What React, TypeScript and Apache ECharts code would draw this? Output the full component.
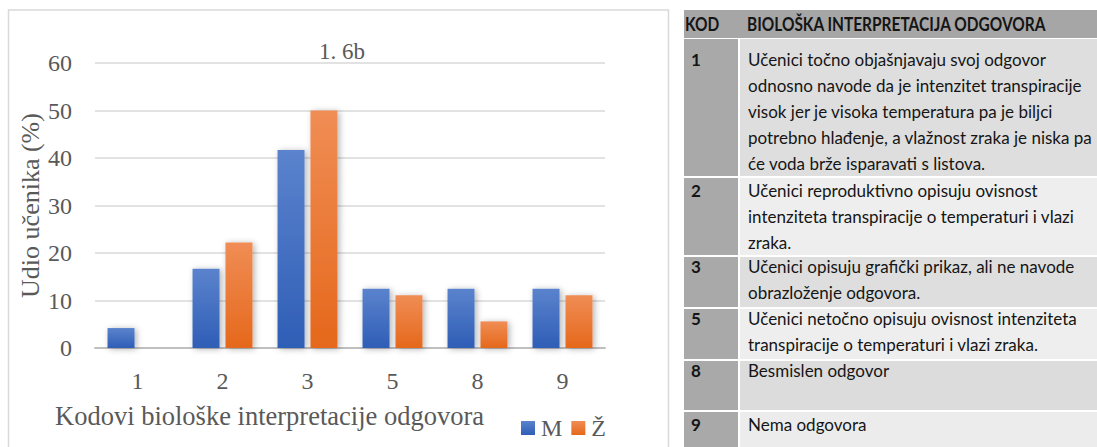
import React, { useEffect, useRef } from "react";
import * as echarts from "echarts";

// ---- data ----
const categories = ["1", "2", "3", "5", "8", "9"];
const maleValues = [4.2, 16.7, 41.7, 12.5, 12.5, 12.5];
const femaleValues = [0, 22.2, 50.0, 11.1, 5.6, 11.1];
const seriesNames = ["M", "Ž"];
const chartTitle = "1. 6b";
const xAxisTitle = "Kodovi biološke interpretacije odgovora";
const yAxisTitle = "Udio učenika (%)";
const yMin = 0;
const yMax = 60;
const yInterval = 10;

const tableHeader = ["KOD", "BIOLOŠKA INTERPRETACIJA ODGOVORA"];
const tableCodes = ["1", "2", "3", "5", "8", "9"];
const tableTexts = [
  "Učenici točno objašnjavaju svoj odgovor\nodnosno navode da je intenzitet transpiracije\nvisok jer je visoka temperatura pa je biljci\npotrebno hlađenje, a vlažnost zraka je niska pa\nće voda brže isparavati s listova.",
  "Učenici reproduktivno opisuju ovisnost\nintenziteta transpiracije o temperaturi i vlazi\nzraka.",
  "Učenici opisuju grafički prikaz, ali ne navode\nobrazloženje odgovora.",
  "Učenici netočno opisuju ovisnost intenziteta\ntranspiracije o temperaturi i vlazi zraka.",
  "Besmislen odgovor",
  "Nema odgovora",
];

// ---- layout / style ----
const SERIF = "'Liberation Serif', 'Times New Roman', serif";
const SANS = "Lato, 'Noto Sans', sans-serif";
const TXT = "#595959";
const TABLE_TXT = "#151515";

const tableLeft = 684;
const codeRight = 738;
const textLeft = 740;
const tableRight = 1097;
const headerTop = 10;
const headerBottom = 38;
const rowTops = [39, 178, 257, 309, 361, 412];
const rowBottoms = [176, 255, 307, 359, 410, 447];
const rowFirstLine = [59, 190, 266, 318, 370, 424];
const textBg = ["#dedede", "#eeeeee", "#dedede", "#eeeeee", "#dcdcdc", "#ececec"];
const codeBg = "#a9a9a9";
const headerBg = "#a6a6a6";
const lineH = 26;

function tableGraphics() {
  const els: any[] = [];
  els.push({
    type: "rect",
    shape: { x: tableLeft, y: headerTop, width: tableRight - tableLeft, height: headerBottom - headerTop },
    style: { fill: headerBg },
  });
  els.push({
    type: "text",
    x: 685,
    y: (headerTop + headerBottom) / 2,
    scaleX: 0.86,
    style: { text: tableHeader[0], font: `bold 18px ${SANS}`, fill: TABLE_TXT, verticalAlign: "middle" },
  });
  els.push({
    type: "text",
    x: 747,
    y: (headerTop + headerBottom) / 2,
    scaleX: 0.86,
    style: { text: tableHeader[1], font: `bold 18px ${SANS}`, fill: TABLE_TXT, verticalAlign: "middle" },
  });
  tableCodes.forEach((code, i) => {
    els.push({
      type: "rect",
      shape: { x: tableLeft, y: rowTops[i], width: codeRight - tableLeft, height: rowBottoms[i] - rowTops[i] },
      style: { fill: codeBg },
    });
    els.push({
      type: "rect",
      shape: { x: textLeft, y: rowTops[i], width: tableRight - textLeft, height: rowBottoms[i] - rowTops[i] },
      style: { fill: textBg[i] },
    });
    els.push({
      type: "text",
      x: 691,
      y: rowFirstLine[i] - lineH / 2,
      style: { text: code, font: `bold 17px ${SANS}`, fill: TABLE_TXT, verticalAlign: "top", lineHeight: lineH },
    });
    els.push({
      type: "text",
      x: 748,
      y: rowFirstLine[i] - lineH / 2,
      style: { text: tableTexts[i], font: `17px ${SANS}`, fill: TABLE_TXT, verticalAlign: "top", lineHeight: lineH },
    });
  });
  return els;
}

function grad(top: string, bottom: string) {
  return new echarts.graphic.LinearGradient(0, 0, 0, 1, [
    { offset: 0, color: top },
    { offset: 1, color: bottom },
  ]);
}

export default function App() {
  const ref = useRef<HTMLDivElement>(null);
  useEffect(() => {
    const chart = echarts.init(ref.current!, null, { renderer: "svg" });
    const shadow = {
      shadowBlur: 6,
      shadowColor: "rgba(0,0,0,0.3)",
      shadowOffsetX: 2,
      shadowOffsetY: 1,
    };
    chart.setOption({
      animation: false,
      backgroundColor: "#ffffff",
      title: {
        text: chartTitle,
        left: 337,
        top: 35,
        textAlign: "center",
        textStyle: { fontFamily: SERIF, fontSize: 23, fontWeight: "normal", color: TXT },
      },
      legend: {
        data: seriesNames,
        left: 521,
        top: 416,
        padding: 0,
        icon: "rect",
        itemWidth: 14,
        itemHeight: 14,
        itemGap: 9,
        textStyle: { fontFamily: SERIF, fontSize: 24, color: TXT, padding: [0, 0, 0, 1] },
      },
      grid: { left: 95, right: 492, top: 63, bottom: 99, containLabel: false },
      xAxis: {
        type: "category",
        data: categories,
        axisTick: { show: false },
        axisLine: { lineStyle: { color: "#bfbfbf", width: 2 } },
        axisLabel: { fontFamily: SERIF, fontSize: 24, color: TXT, margin: 21 },
      },
      yAxis: {
        type: "value",
        min: yMin,
        max: yMax,
        interval: yInterval,
        name: yAxisTitle,
        nameLocation: "middle",
        nameGap: 52,
        nameTextStyle: { fontFamily: SERIF, fontSize: 26, color: TXT },
        axisLine: { show: false },
        axisTick: { show: false },
        axisLabel: { fontFamily: SERIF, fontSize: 24, color: TXT, margin: 23 },
        splitLine: { lineStyle: { color: "#d9d9d9", width: 1.5 } },
      },
      series: [
        {
          name: seriesNames[0],
          type: "bar",
          data: maleValues,
          barWidth: 27,
          barGap: "22%",
          itemStyle: { color: grad("#5b83cd", "#2f5eb6"), ...shadow },
        },
        {
          name: seriesNames[1],
          type: "bar",
          data: femaleValues,
          barWidth: 27,
          barGap: "22%",
          itemStyle: { color: grad("#f08d55", "#e5681b"), ...shadow },
        },
      ],
      graphic: [
        {
          type: "rect",
          z: -1,
          shape: { x: 8.5, y: 10, width: 660, height: 446 },
          style: { fill: "none", stroke: "#d9d9d9", lineWidth: 1.5 },
        },
        {
          type: "text",
          x: 55,
          y: 416,
          style: { text: xAxisTitle, font: `26.5px ${SERIF}`, fill: TXT, verticalAlign: "middle" },
        },
        ...tableGraphics(),
      ],
    });
    return () => chart.dispose();
  }, []);
  return (
    <div
      ref={ref}
      style={{ position: "fixed", left: 0, top: 0, width: 1097, height: 447, background: "#fff" }}
    />
  );
}
